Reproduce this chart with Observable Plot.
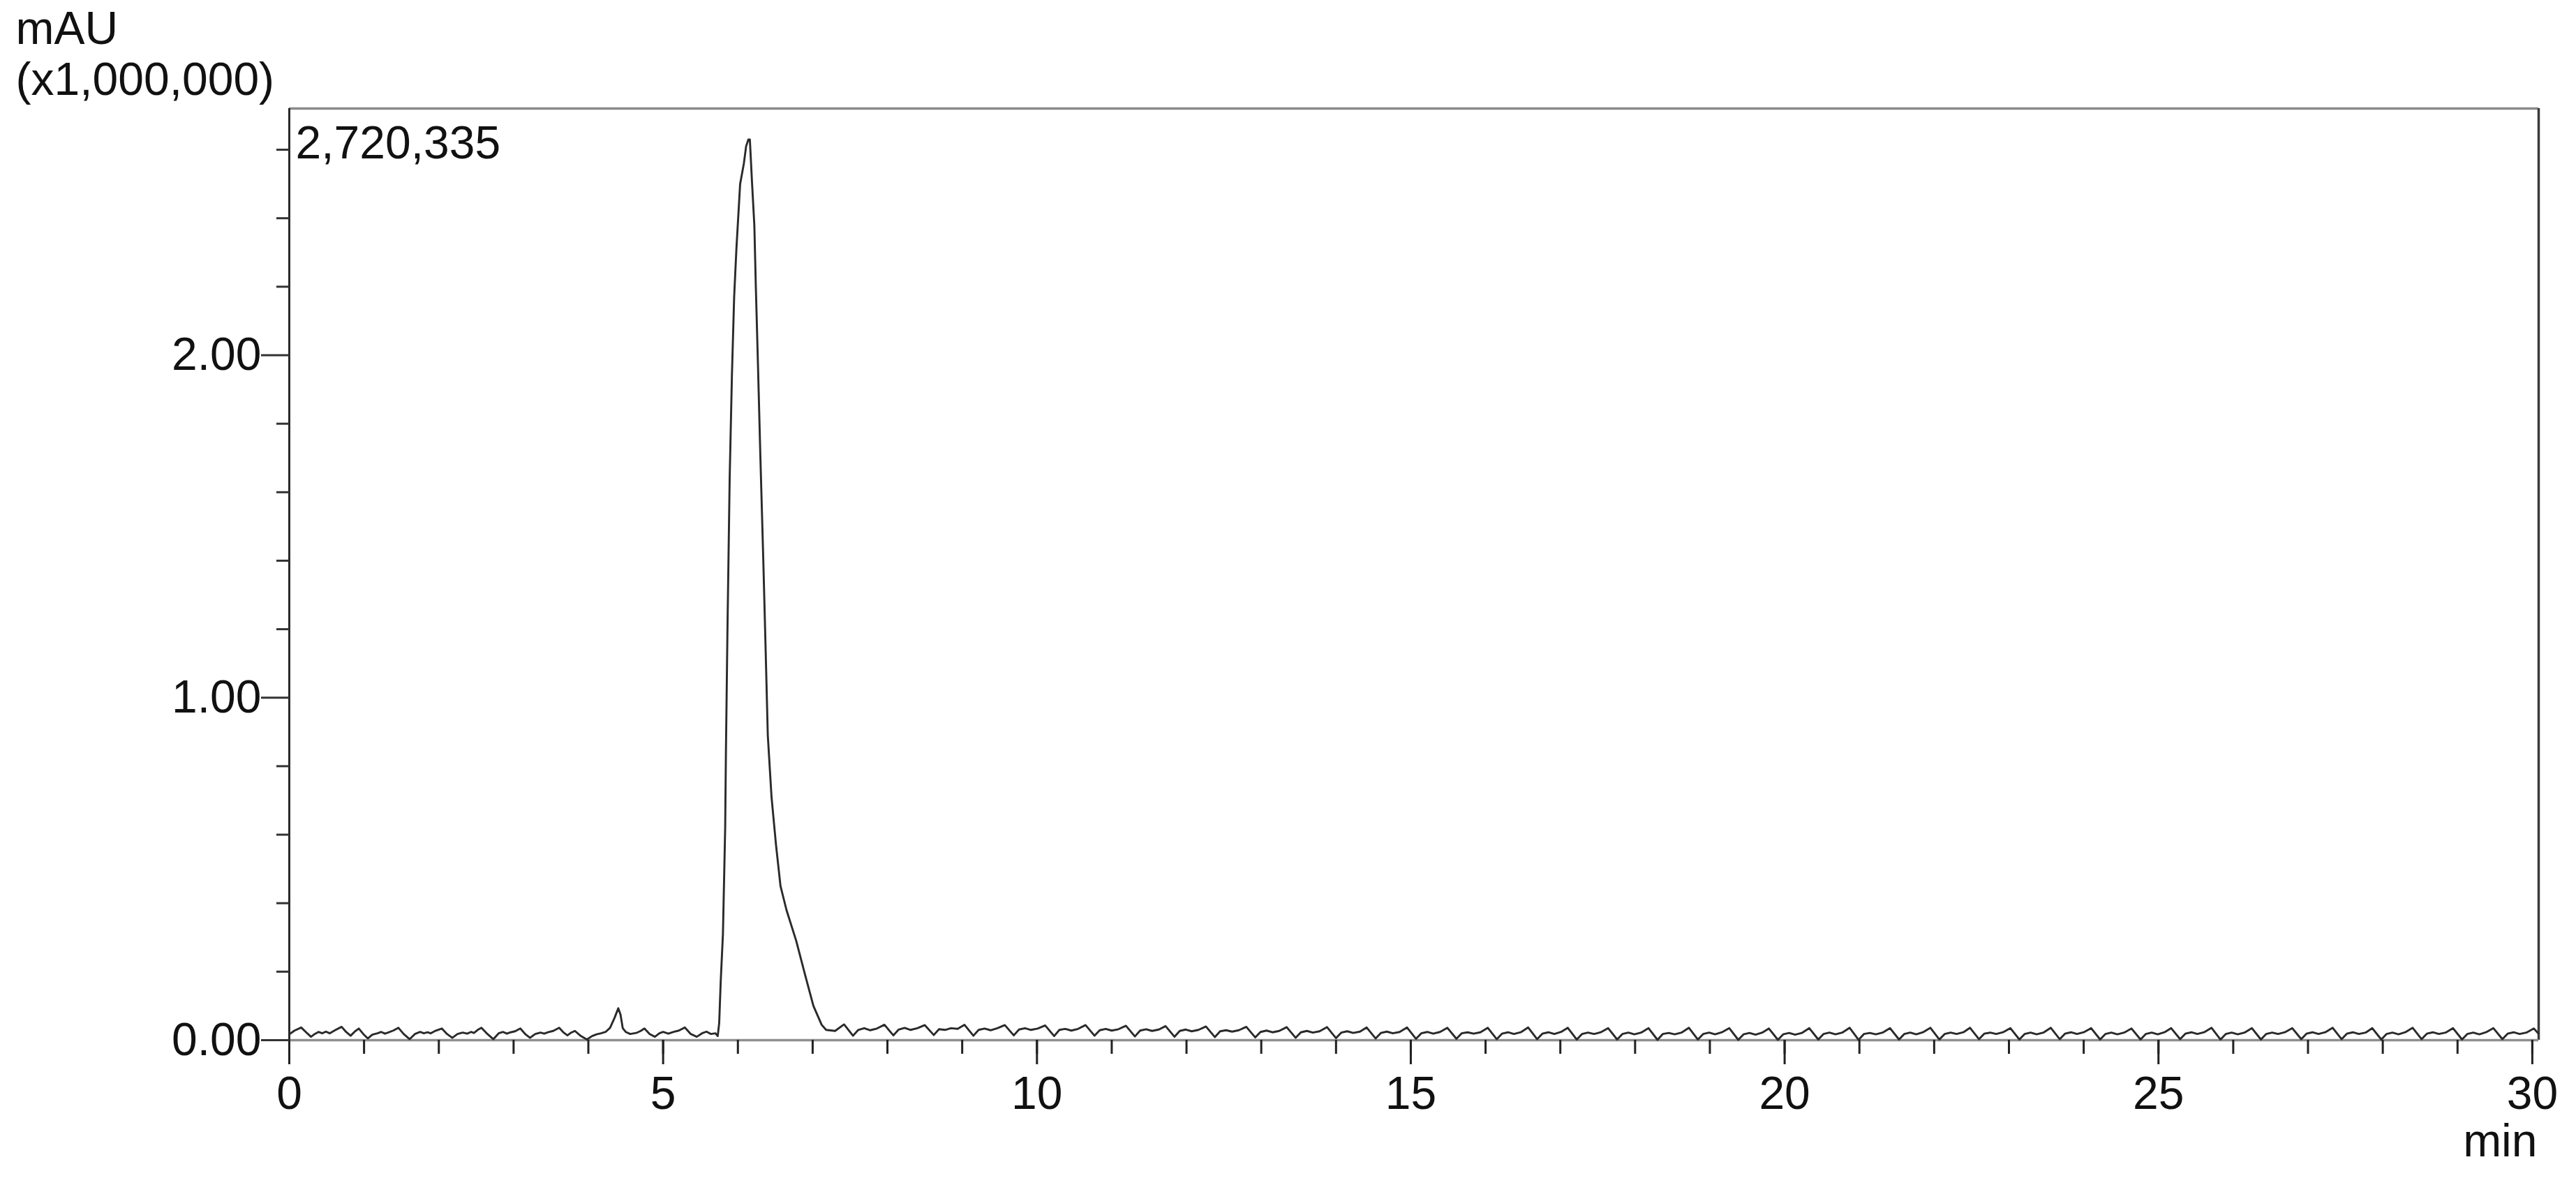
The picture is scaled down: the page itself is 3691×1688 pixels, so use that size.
<!DOCTYPE html>
<html>
<head>
<meta charset="utf-8">
<script src="https://cdn.jsdelivr.net/npm/d3@7"></script>
<script src="https://cdn.jsdelivr.net/npm/@observablehq/plot@0.6"></script>
<style>
html, body { margin: 0; padding: 0; background: #fff; }
svg { display: block; }
</style>
</head>
<body>
<div id="chart"></div>
<script>
// ---- text ----
const yUnitLabel = "mAU";
const yScaleLabel = "(x1,000,000)";
const xUnitLabel = "min";
const maxLabel = "2,720,335";
const yMax = 2.720335;      // top of the y range (x1,000,000 mAU)
const xMax = 30.085;        // right edge of the frame (min)

// ---- ticks ----
const xMajorTicks = [0, 5, 10, 15, 20, 25, 30];
const xMinorTicks = [0, 1, 2, 3, 4, 5, 6, 7, 8, 9, 10, 11, 12, 13, 14, 15, 16, 17, 18, 19, 20, 21, 22, 23, 24, 25, 26, 27, 28, 29, 30];
const yMajorTicks = [0, 1, 2];
const yMinorTicks = [0.2, 0.4, 0.6, 0.8, 1.2, 1.4, 1.6, 1.8, 2.2, 2.4, 2.6];

// ---- signal: [time (min), intensity (x1,000,000 mAU)] ----
const baselineEarly = [
  [0.00,.017],[0.07,.028],[0.16,.037],[0.24,.020],[0.29,.010],[0.34,.018],[0.39,.024],[0.44,.020],[0.49,.025],[0.54,.020],
  [0.62,.030],[0.70,.039],[0.76,.024],[0.82,.013],[0.88,.026],[0.93,.034],[0.99,.018],[1.05,.005],[1.11,.016],[1.18,.020],
  [1.23,.024],[1.28,.019],[1.32,.022],[1.39,.028],[1.46,.036],[1.53,.018],[1.61,.003],[1.68,.018],[1.75,.024],[1.80,.020],
  [1.85,.023],[1.89,.020],[1.96,.028],[2.04,.034],[2.11,.018],[2.18,.007],[2.25,.018],[2.32,.022],[2.38,.019],[2.43,.024],
  [2.47,.021],[2.52,.030],[2.57,.036],[2.65,.018],[2.73,.003],[2.80,.020],[2.86,.024],[2.91,.019],[2.96,.023],[3.02,.026],
  [3.09,.034],[3.16,.017],[3.22,.007],[3.29,.018],[3.36,.022],[3.41,.019],[3.46,.023],[3.53,.027],[3.61,.036],[3.67,.022],
  [3.72,.014],[3.77,.022],[3.82,.027],[3.90,.012],[3.98,.002],[4.05,.012],[4.11,.017],[4.17,.020],[4.23,.024],[4.29,.036],
  [4.35,.065],[4.40,.093],[4.43,.075],[4.46,.035],[4.50,.024],[4.56,.018],[4.64,.021],[4.70,.027],[4.75,.034],[4.82,.018],
  [4.89,.010],[4.95,.020],[5.00,.024],[5.07,.019],[5.14,.024],[5.21,.028],[5.29,.037],[5.37,.018],[5.45,.010],[5.52,.020],
  [5.58,.025],[5.64,.018],[5.70,.020],[5.73,.012]
];

const mainPeak = [
  [5.75,.05],[5.77,.17],[5.80,.31],[5.83,.62],[5.84,.84],[5.86,1.19],[5.89,1.64],[5.92,1.94],[5.95,2.17],[5.98,2.31],
  [6.03,2.50],[6.08,2.56],[6.11,2.61],[6.14,2.63],[6.16,2.63],[6.19,2.50],[6.22,2.38],[6.24,2.20],[6.27,1.96],[6.30,1.71],
  [6.34,1.40],[6.37,1.15],[6.40,.89],[6.45,.71],[6.51,.57],[6.57,.45],[6.65,.38],[6.78,.29],[6.90,.19],[7.01,.10],
  [7.12,.045],[7.18,.030],[7.30,.027]
];

const baselineLate = [
  [7.42,.046],[7.54,.013],[7.61,.030],[7.69,.035],[7.77,.029],[7.86,.034],
  [7.96,.045],[8.08,.014],[8.15,.031],[8.23,.036],[8.31,.030],[8.40,.035],
  [8.50,.044],[8.62,.015],[8.69,.032],[8.77,.030],[8.85,.035],[8.94,.033],
  [9.03,.045],[9.15,.013],[9.22,.030],[9.30,.034],[9.38,.029],[9.47,.035],
  [9.57,.044],[9.69,.014],[9.76,.031],[9.84,.035],[9.92,.030],[10.01,.034],
  [10.11,.043],[10.23,.012],[10.30,.030],[10.38,.033],[10.46,.028],[10.55,.033],
  [10.65,.044],[10.77,.013],[10.84,.029],[10.92,.033],[11.00,.028],[11.09,.032],
  [11.19,.042],[11.31,.011],[11.38,.028],[11.46,.032],[11.54,.027],[11.63,.031],
  [11.72,.041],[11.84,.010],[11.91,.027],[11.99,.031],[12.07,.026],[12.16,.030],
  [12.26,.040],[12.38,.009],[12.45,.026],[12.53,.029],[12.61,.025],[12.70,.029],
  [12.80,.039],[12.92,.008],[12.99,.024],[13.07,.028],[13.15,.023],[13.24,.027],
  [13.34,.038],[13.46,.007],[13.53,.023],[13.61,.027],[13.69,.022],[13.78,.026],
  [13.88,.038],[14.00,.006],[14.07,.022],[14.15,.026],[14.23,.021],[14.32,.025],
  [14.41,.037],[14.53,.005],[14.60,.021],[14.68,.025],[14.76,.020],[14.85,.024],
  [14.95,.037],[15.07,.004],[15.14,.020],[15.22,.024],[15.30,.019],[15.39,.024],
  [15.49,.036],[15.61,.004],[15.68,.020],[15.76,.023],[15.84,.019],[15.93,.023],
  [16.03,.036],[16.15,.003],[16.22,.019],[16.30,.023],[16.38,.018],[16.47,.023],
  [16.57,.037],[16.69,.003],[16.76,.019],[16.84,.023],[16.92,.018],[17.01,.024],
  [17.10,.036],[17.22,.002],[17.29,.018],[17.37,.022],[17.45,.018],[17.54,.023],
  [17.64,.035],[17.76,.002],[17.83,.018],[17.91,.022],[17.99,.017],[18.08,.022],
  [18.18,.035],[18.30,.001],[18.37,.018],[18.45,.021],[18.53,.017],[18.62,.022],
  [18.72,.036],[18.84,.002],[18.91,.018],[18.99,.022],[19.07,.017],[19.16,.023],
  [19.26,.035],[19.38,.001],[19.45,.017],[19.53,.021],[19.61,.016],[19.70,.022],
  [19.79,.034],[19.91,.001],[19.98,.017],[20.06,.021],[20.14,.016],[20.23,.021],
  [20.33,.035],[20.45,.002],[20.52,.018],[20.60,.022],[20.68,.017],[20.77,.022],
  [20.87,.036],[20.99,.001],[21.06,.018],[21.14,.021],[21.22,.017],[21.31,.022],
  [21.41,.035],[21.53,.002],[21.60,.018],[21.68,.022],[21.76,.017],[21.85,.023],
  [21.95,.036],[22.07,.002],[22.14,.018],[22.22,.022],[22.30,.018],[22.39,.023],
  [22.48,.036],[22.60,.003],[22.67,.019],[22.75,.022],[22.83,.018],[22.92,.023],
  [23.02,.035],[23.14,.002],[23.21,.018],[23.29,.022],[23.37,.017],[23.46,.022],
  [23.56,.036],[23.68,.003],[23.75,.019],[23.83,.023],[23.91,.018],[24.00,.023],
  [24.10,.035],[24.22,.002],[24.29,.018],[24.37,.022],[24.45,.017],[24.54,.022],
  [24.64,.034],[24.76,.002],[24.83,.018],[24.91,.022],[24.99,.017],[25.08,.023],
  [25.17,.035],[25.29,.003],[25.36,.019],[25.44,.023],[25.52,.018],[25.61,.023],
  [25.71,.036],[25.83,.002],[25.90,.018],[25.98,.022],[26.06,.017],[26.15,.022],
  [26.25,.035],[26.37,.002],[26.44,.018],[26.52,.022],[26.60,.018],[26.69,.023],
  [26.79,.035],[26.91,.003],[26.98,.019],[27.06,.023],[27.14,.018],[27.23,.023],
  [27.33,.036],[27.45,.003],[27.52,.019],[27.60,.023],[27.68,.018],[27.77,.022],
  [27.86,.035],[27.98,.002],[28.05,.018],[28.13,.022],[28.21,.017],[28.30,.023],
  [28.40,.036],[28.52,.003],[28.59,.019],[28.67,.023],[28.75,.018],[28.84,.022],
  [28.94,.035],[29.06,.002],[29.13,.018],[29.21,.022],[29.29,.017],[29.38,.023],
  [29.48,.035],[29.60,.003],[29.67,.019],[29.75,.023],[29.83,.018],[29.92,.022],
  [30.02,.034],[30.08,.020]
];

const rows = [...baselineEarly, ...mainPeak, ...baselineLate].map(([t, v]) => ({t, v}));

const font = '"Liberation Sans", Arial, Helvetica, sans-serif';
const fs = 66;

const chart = Plot.plot({
  width: 3691,
  height: 1688,
  marginLeft: 414,
  marginRight: 54,
  marginTop: 155,
  marginBottom: 198,
  style: {fontFamily: font, fontSize: fs + "px", background: "#fff", color: "#111"},
  x: {domain: [0, xMax], label: null},
  y: {domain: [0, yMax], label: null},
  marks: [
    // frame
    Plot.ruleY([yMax], {stroke: "#8a8a8a", strokeWidth: 3.5}),
    Plot.ruleX([xMax], {stroke: "#3a3a3a", strokeWidth: 3.5}),
    Plot.ruleY([0], {stroke: "#8f8f8f", strokeWidth: 3.5}),
    Plot.ruleX([0], {stroke: "#2a2a2a", strokeWidth: 3}),
    // signal
    Plot.line(rows, {x: "t", y: "v", stroke: "#2a2a2a", strokeWidth: 2.9, curve: "linear"}),
    // x axis: minor ticks, major ticks with labels
    Plot.axisX(xMinorTicks, {tickSize: 20, fill: "none", label: null, stroke: "#222", strokeWidth: 3}),
    Plot.axisX(xMajorTicks, {tickSize: 35, tickPadding: 17, label: null, stroke: "#222", strokeWidth: 3,
      fill: "#111", fontSize: fs, tickFormat: d => String(d)}),
    // y axis: minor ticks, major ticks with labels
    Plot.axisY(yMinorTicks, {tickSize: 18, fill: "none", label: null, stroke: "#333", strokeWidth: 3}),
    Plot.axisY(yMajorTicks, {tickSize: 40, tickPadding: 0, label: null, stroke: "#333", strokeWidth: 3,
      fill: "#111", fontSize: fs, tickFormat: d3.format(".2f")}),
    // texts
    Plot.text([yUnitLabel], {frameAnchor: "top-left", text: d => d, textAnchor: "start", lineAnchor: "bottom",
      dx: -392, dy: -93, fontSize: fs, fill: "#111"}),
    Plot.text([yScaleLabel], {frameAnchor: "top-left", text: d => d, textAnchor: "start", lineAnchor: "bottom",
      dx: -392, dy: -20, fontSize: fs, fill: "#111"}),
    Plot.text([maxLabel], {frameAnchor: "top-left", text: d => d, textAnchor: "start", lineAnchor: "bottom",
      dx: 9, dy: 71, fontSize: fs, fill: "#111"}),
    Plot.text([xUnitLabel], {frameAnchor: "bottom-right", text: d => d, textAnchor: "end", lineAnchor: "bottom",
      dx: -2, dy: 166, fontSize: fs, fill: "#111"})
  ]
});
document.getElementById("chart").appendChild(chart);
</script>
</body>
</html>
